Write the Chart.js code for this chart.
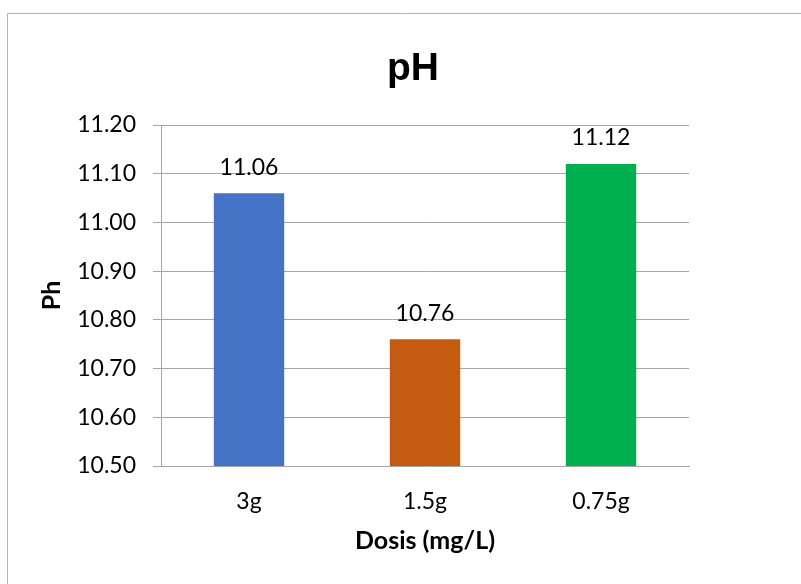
<!DOCTYPE html>
<html>
<head>
<meta charset="utf-8">
<script src="https://cdn.jsdelivr.net/npm/chart.js@4"></script>
<style>
  html, body { margin: 0; padding: 0; background: #fff; }
  #wrap { width: 801px; height: 584px; }
</style>
</head>
<body>
<div id="wrap"><canvas id="myChart" width="801" height="584"></canvas></div>
<script>
// datos
const categories = ['3g', '1.5g', '0.75g'];
const phValues = [11.06, 10.76, 11.12];
const yTickValues = [10.5, 10.6, 10.7, 10.8, 10.9, 11.0, 11.1, 11.2];
const chartTitle = 'pH';
const yTitle = 'Ph';
const xTitle = 'Dosis (mg/L)';

// marco gris de fondo + titulo
const framePlugin = {
  id: 'frame',
  beforeDraw(chart) {
    const ctx = chart.ctx;
    ctx.save();
    ctx.strokeStyle = '#b4b4b4';
    ctx.lineWidth = 1;
    ctx.beginPath();
    ctx.moveTo(7.5, 584);
    ctx.lineTo(7.5, 13.5);
    ctx.lineTo(801, 13.5);
    ctx.stroke();
    ctx.fillStyle = '#000';
    ctx.font = 'bold 39px "Liberation Sans", Arial, sans-serif';
    ctx.textAlign = 'center';
    ctx.textBaseline = 'middle';
    ctx.fillText(chartTitle, 413, 69);
    ctx.restore();
  }
};

// etiquetas de valor encima de las barras
const valueLabels = {
  id: 'valueLabels',
  afterDatasetsDraw(chart) {
    const ctx = chart.ctx;
    const meta = chart.getDatasetMeta(0);
    ctx.save();
    ctx.fillStyle = '#000';
    ctx.font = '23px Lato, "Open Sans", sans-serif';
    ctx.textAlign = 'center';
    ctx.textBaseline = 'middle';
    meta.data.forEach(function (bar, i) {
      ctx.fillText(phValues[i].toFixed(2), bar.x, bar.y - 26);
    });
    ctx.restore();
  }
};

const tickFont = { family: 'Lato, "Open Sans", sans-serif', size: 23 };
const titleFont = { family: 'Lato, "Open Sans", sans-serif', size: 25, weight: 'bold' };

var ctx = document.getElementById('myChart').getContext('2d');
var myChart = new Chart(ctx, {
  type: 'bar',
  data: {
    labels: categories,
    datasets: [{
      label: 'pH',
      data: phValues,
      backgroundColor: ['#4472C4', '#C55A11', '#00B050'],
      borderWidth: 0,
      barPercentage: 0.4,
      categoryPercentage: 1.0
    }]
  },
  options: {
    responsive: false,
    animation: false,
    devicePixelRatio: 1,
    layout: { padding: { top: 125, right: 112, left: 0, bottom: 0 } },
    plugins: {
      legend: { display: false },
      title: { display: false },
      tooltip: { enabled: false }
    },
    scales: {
      x: {
        grid: { display: false },
        border: { display: true, color: '#a6a6a6' },
        ticks: { color: '#000', font: tickFont, padding: 14 },
        title: { display: true, text: xTitle, color: '#000', font: titleFont, padding: { top: 0, bottom: 28 } },
        afterFit: function (scale) { scale.height = 118; }
      },
      y: {
        min: yTickValues[0],
        max: yTickValues[yTickValues.length - 1],
        grid: { color: '#a6a6a6', tickLength: 8 },
        border: { display: true, color: '#a6a6a6' },
        ticks: {
          stepSize: 0.1,
          color: '#000',
          font: tickFont,
          padding: 17,
          callback: function (v) { return Number(v).toFixed(2); }
        },
        title: { display: true, text: yTitle, color: '#000', font: titleFont, padding: { top: 37, bottom: 0 } },
        afterFit: function (scale) { scale.width = 161; }
      }
    }
  },
  plugins: [framePlugin, valueLabels]
});
</script>
</body>
</html>
